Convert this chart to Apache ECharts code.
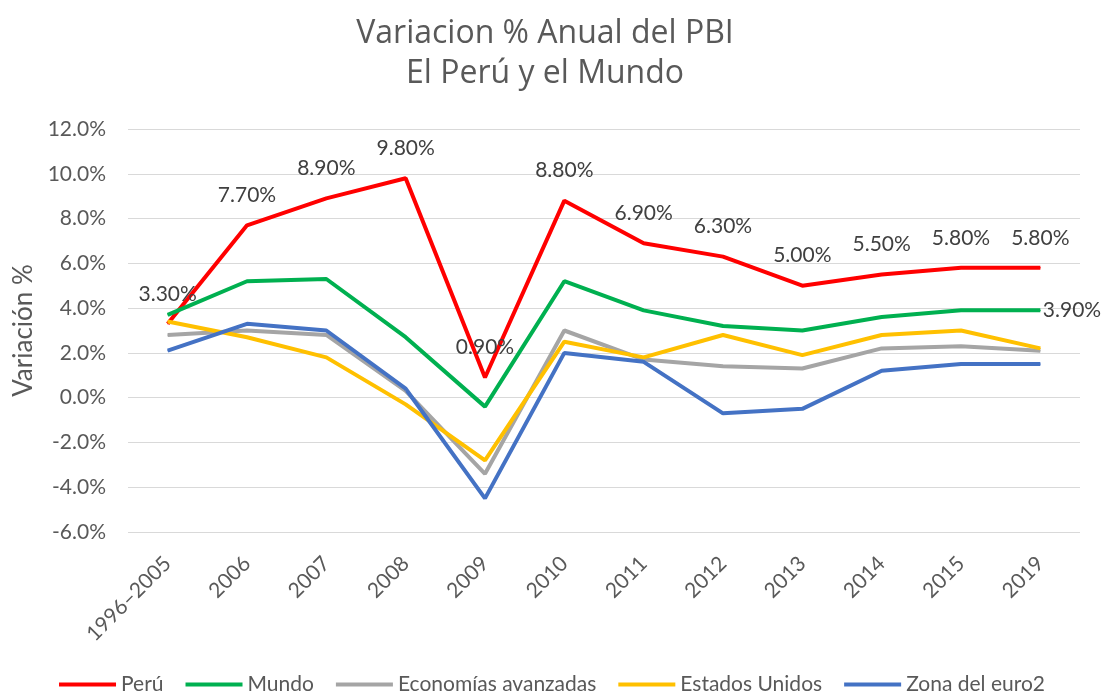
<!DOCTYPE html>
<html><head><meta charset="utf-8">
<script src="https://cdn.jsdelivr.net/npm/echarts@6/dist/echarts.min.js"></script>
<style>html,body{margin:0;padding:0;background:#fff}#c{width:1104px;height:695px}</style>
</head><body><div id="c"></div>
<script>
const categories = ['1996–2005','2006','2007','2008','2009','2010','2011','2012','2013','2014','2015','2019'];
const peru   = [3.3, 7.7, 8.9, 9.8, 0.9, 8.8, 6.9, 6.3, 5.0, 5.5, 5.8, 5.8];
const mundo  = [3.7, 5.2, 5.3, 2.7, -0.4, 5.2, 3.9, 3.2, 3.0, 3.6, 3.9, 3.9];
const avanz  = [2.8, 3.0, 2.8, 0.3, -3.4, 3.0, 1.7, 1.4, 1.3, 2.2, 2.3, 2.1];
const eeuu   = [3.4, 2.7, 1.8, -0.3, -2.8, 2.5, 1.8, 2.8, 1.9, 2.8, 3.0, 2.2];
const euro   = [2.1, 3.3, 3.0, 0.4, -4.5, 2.0, 1.6, -0.7, -0.5, 1.2, 1.5, 1.5];
const yTicks = [-6, -4, -2, 0, 2, 4, 6, 8, 10, 12];

const FONT = 'Lato';
const chart = echarts.init(document.getElementById('c'));
const lbl = {show:true, position:'top', distance:19, fontSize:21, color:'#404040', fontFamily:FONT,
  formatter: p => p.value.toFixed(2) + '%'};
function line(name, data, color, extra) {
  return Object.assign({name, type:'line', data, symbol:'circle', symbolSize:1, showSymbol:true,
    lineStyle:{color, width:4}, itemStyle:{color}, emphasis:{disabled:true}}, extra||{});
}
chart.setOption({
  animation:false,
  textStyle:{fontFamily:FONT},
  title:{text:'Variacion % Anual del PBI\nEl Perú y el Mundo', left:540, textAlign:'center', top:9,
    textStyle:{fontSize:32, fontWeight:'normal', color:'#595959', fontFamily:'Open Sans', lineHeight:40}},
  legend:{bottom:0, left:'center', padding:0, itemWidth:57, itemHeight:4, itemGap:22,
    icon:'rect',
    textStyle:{fontSize:21, color:'#595959', fontFamily:FONT}},
  grid:{left:128, right:24, top:129, bottom:163},
  xAxis:{type:'category', data:categories, boundaryGap:true,
    axisLine:{show:false}, axisTick:{show:false},
    axisLabel:{rotate:45, fontSize:21, color:'#595959', fontFamily:FONT, margin:28}},
  yAxis:{type:'value', min:yTicks[0], max:yTicks[yTicks.length-1], interval:2,
    name:'Variación %', nameLocation:'middle', nameGap:88, nameRotate:90,
    nameTextStyle:{fontSize:26, color:'#595959', fontFamily:FONT},
    axisLine:{show:false}, axisTick:{show:false},
    axisLabel:{fontSize:21, color:'#595959', fontFamily:FONT, margin:22, formatter: v => v.toFixed(1)+'%'},
    splitLine:{lineStyle:{color:'#d9d9d9', width:1}}},
  series:[
    line('Perú', peru, '#FF0000', {label:lbl, z:3}),
    line('Mundo', mundo, '#00B050', {label:{show:true, position:'right', distance:2, fontSize:21, color:'#404040', fontFamily:FONT,
      formatter: p => p.dataIndex === mundo.length-1 ? p.value.toFixed(2)+'%' : ''}}),
    line('Economías avanzadas', avanz, '#A5A5A5'),
    line('Estados Unidos', eeuu, '#FFC000'),
    line('Zona del euro2', euro, '#4472C4')
  ]
});
</script></body></html>
